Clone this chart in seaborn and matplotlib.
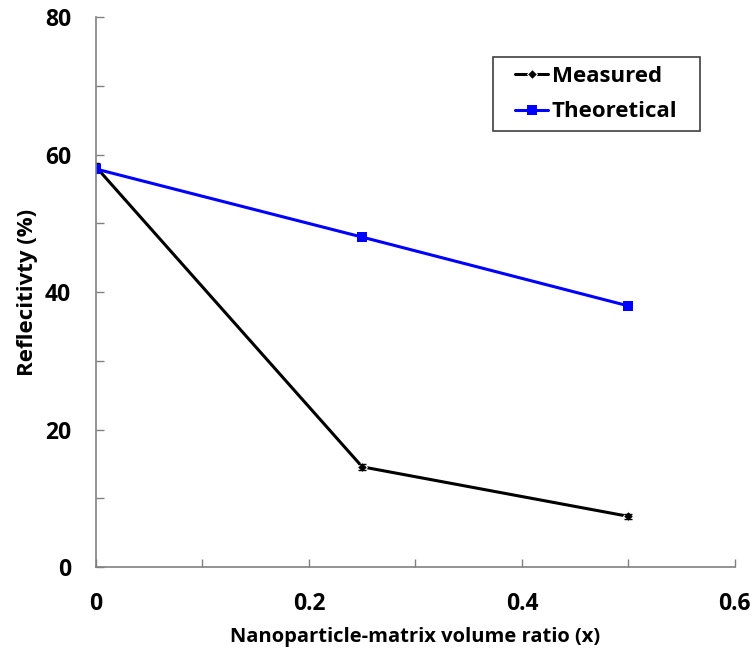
import numpy as np
import pandas as pd
import matplotlib.pyplot as plt
import seaborn as sns
from matplotlib.ticker import MultipleLocator
from matplotlib.patches import Rectangle

# data
ratio = [0.0, 0.25, 0.5]
measured = [58.2, 14.6, 7.4]
measured_err = [0.6, 0.4, 0.4]
theoretical = [57.9, 48.0, 38.0]

sns.set_style("white")
plt.rcParams['font.family'] = ['Open Sans', 'DejaVu Sans']
plt.rcParams['font.weight'] = 'bold'
plt.rcParams['text.color'] = 'black'
plt.rcParams['xtick.labelcolor'] = 'black'
plt.rcParams['ytick.labelcolor'] = 'black'
plt.rcParams['axes.labelcolor'] = 'black'

df = pd.DataFrame({"x": ratio + ratio,
                   "y": measured + theoretical,
                   "series": ["Measured"] * 3 + ["Theoretical"] * 3})

fig = plt.figure(figsize=(7.56, 6.55), dpi=100)
ax = fig.add_axes([0.127, 0.134, 0.845, 0.840])

sns.lineplot(data=df[df.series == "Measured"], x="x", y="y", ax=ax, color="black",
             marker="D", markersize=5, linewidth=2.2, label="Measured")
ax.errorbar(ratio, measured, yerr=measured_err, fmt="none", ecolor="black",
            capsize=3, elinewidth=1.2)
sns.lineplot(data=df[df.series == "Theoretical"], x="x", y="y", ax=ax, color="#0000ff",
             marker="s", markersize=7, markeredgewidth=0, linewidth=2.2, label="Theoretical")

ax.set_xlim(0, 0.6)
ax.set_ylim(0, 80)
ax.xaxis.set_major_locator(MultipleLocator(0.2))
ax.xaxis.set_minor_locator(MultipleLocator(0.1))
ax.yaxis.set_major_locator(MultipleLocator(20))
ax.yaxis.set_minor_locator(MultipleLocator(10))
ax.xaxis.set_major_formatter(plt.FuncFormatter(lambda v, p: "0" if abs(v) < 1e-9 else f"{v:.1f}"))

for side in ["top", "right"]:
    ax.spines[side].set_visible(False)
for side in ["left", "bottom"]:
    ax.spines[side].set_color("#808080")
    ax.spines[side].set_linewidth(1.2)

ax.tick_params(axis="both", which="both", direction="in", color="#808080",
               labelsize=16.5, width=1, length=6, bottom=True, left=True)
ax.tick_params(axis="x", pad=18)
ax.tick_params(axis="y", pad=18)

ax.set_xlabel("Nanoparticle-matrix volume ratio (x)", fontsize=14.5, fontweight="bold", labelpad=8)
ax.set_ylabel("Reflecitivty (%)", fontsize=16, fontweight="bold", labelpad=5)

# legend box drawn separately so its padding can match the original
ax.add_patch(Rectangle((0.621, 0.793), 0.324, 0.134, transform=ax.transAxes,
                       facecolor="white", edgecolor="#404040", linewidth=1.2, zorder=4))
leg = ax.legend(loc="center", bbox_to_anchor=(0.783, 0.86), fontsize=16,
                frameon=False, handlelength=1.5, handletextpad=0.15,
                borderpad=0, labelspacing=0.65)
leg.set_zorder(5)

fig.savefig("out.png", dpi=100)
